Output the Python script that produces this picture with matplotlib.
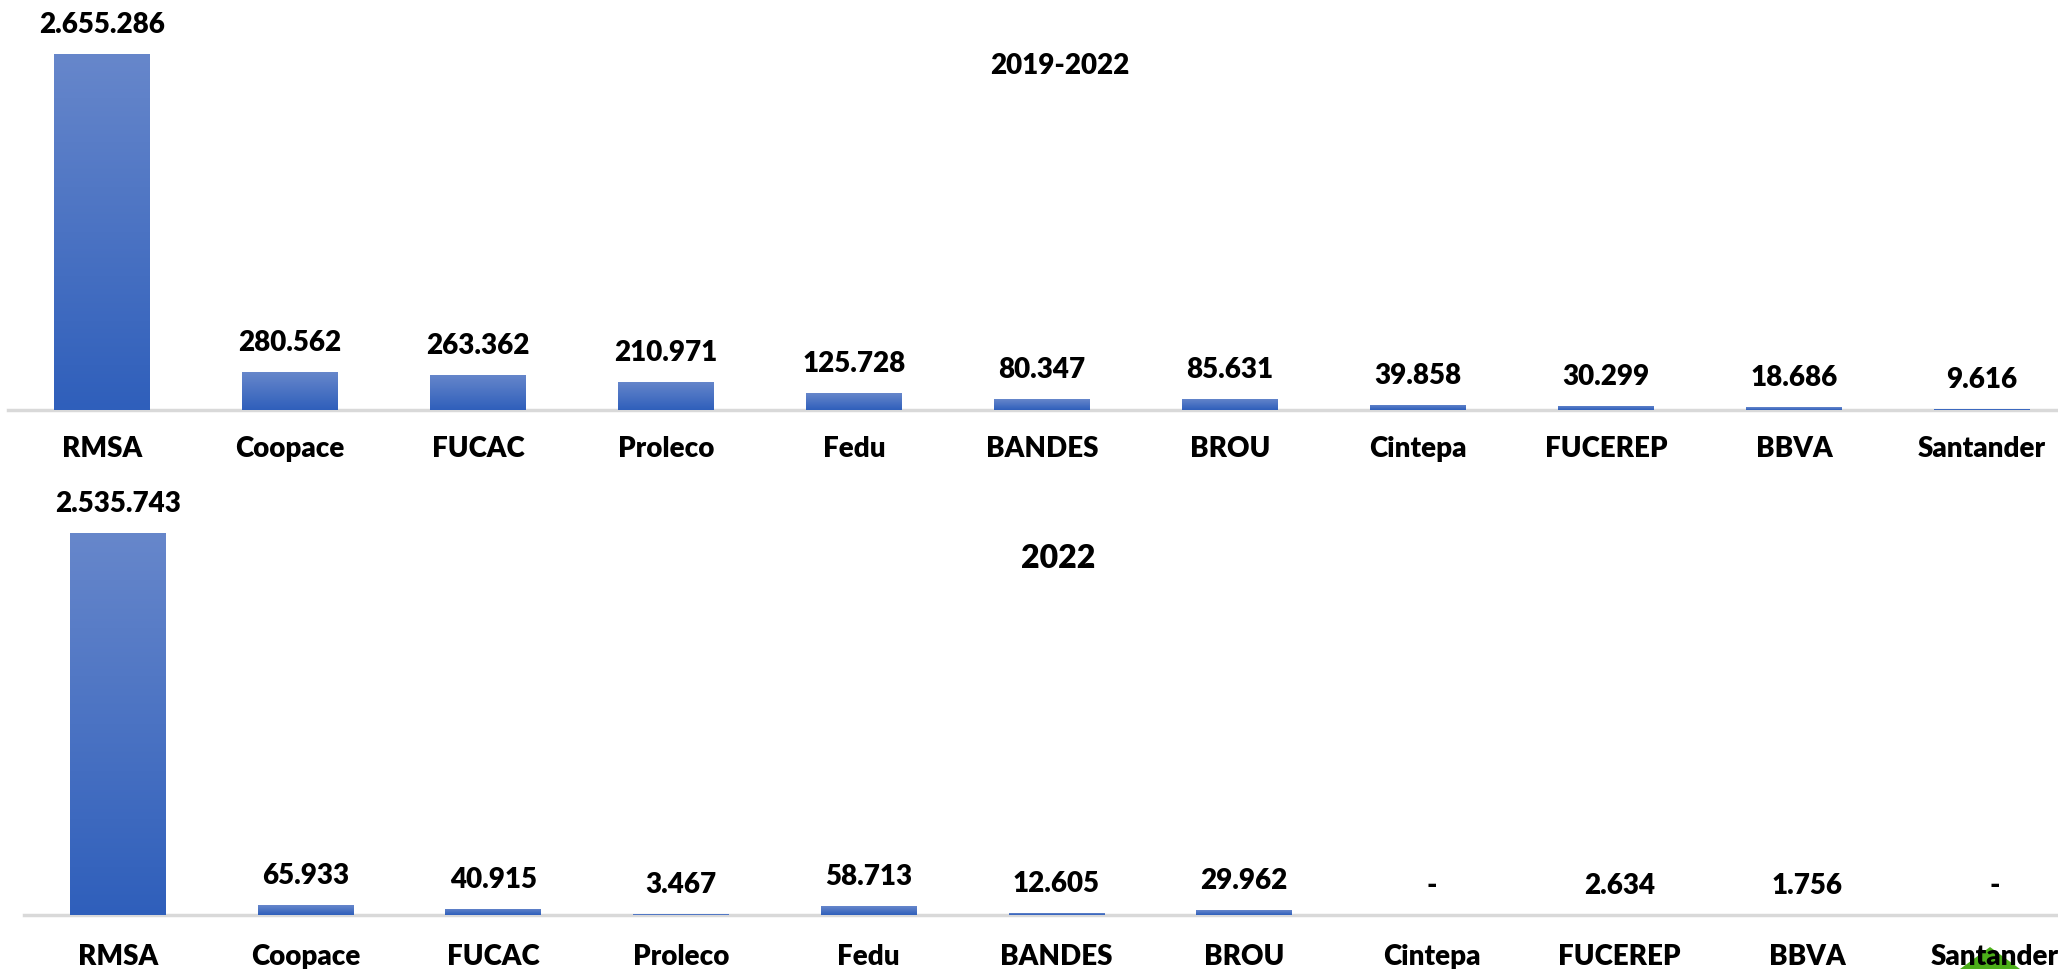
import numpy as np
import matplotlib
matplotlib.use('Agg')
import matplotlib.pyplot as plt
from matplotlib import font_manager
from matplotlib.colors import LinearSegmentedColormap
from matplotlib.patches import Polygon

# datos
categories = ['RMSA', 'Coopace', 'FUCAC', 'Proleco', 'Fedu', 'BANDES', 'BROU',
              'Cintepa', 'FUCEREP', 'BBVA', 'Santander']
values_2019_2022 = [2655286, 280562, 263362, 210971, 125728, 80347, 85631,
                    39858, 30299, 18686, 9616]
values_2022 = [2535743, 65933, 40915, 3467, 58713, 12605, 29962,
               0, 2634, 1756, 0]
titles = ['2019-2022', '2022']

# buscar una familia que tenga negrita real
candidatas = ['Lato', 'Roboto', 'Noto Sans', 'Open Sans', 'Liberation Sans', 'DejaVu Sans']
familia = 'DejaVu Sans'
for c in candidatas:
    pesos = [f.weight for f in font_manager.fontManager.ttflist if f.name == c]
    pesos = [w if isinstance(w, int) else font_manager.weight_dict.get(w, 400) for w in pesos]
    if any(w >= 600 for w in pesos):
        familia = c
        break
plt.rcParams['font.family'] = [familia, 'DejaVu Sans']
PESO = 'heavy'

W, H = 2058, 969
fig = plt.figure(figsize=(W / 100, H / 100), dpi=100)

grad_cmap = LinearSegmentedColormap.from_list('barra', ['#2f5fbb', '#6787cb'])


def fmt(v):
    if v == 0:
        return '-'
    return f'{v:,}'.replace(',', '.')


def px_axes(left, right, top, bottom):
    return fig.add_axes([left / W, 1 - bottom / H, (right - left) / W, (bottom - top) / H])


def draw_panel(ax, values, ymax, pad):
    x = np.arange(len(categories))
    bars = ax.bar(x, values, width=0.51, color='#4472c4', zorder=2)
    grad = np.linspace(0, 1, 256).reshape(-1, 1)
    for b in bars:
        if b.get_height() <= 0:
            continue
        im = ax.imshow(grad, cmap=grad_cmap, origin='lower', aspect='auto',
                       extent=(b.get_x(), b.get_x() + b.get_width(), 0, b.get_height()),
                       zorder=3)
        im.set_clip_path(b)
    for xi, v in zip(x, values):
        ax.annotate(fmt(v), (xi, v), xytext=(0, 29), textcoords='offset pixels',
                    ha='center', va='center', fontsize=20, fontweight=PESO)
    ax.set_xlim(-0.5, len(categories) - 0.5)
    ax.set_ylim(0, ymax)
    ax.set_xticks(x)
    ax.set_xticklabels(categories, fontsize=20, fontweight=PESO)
    ax.tick_params(axis='x', length=0, pad=pad)
    ax.set_yticks([])
    for s in ['top', 'left', 'right']:
        ax.spines[s].set_visible(False)
    ax.spines['bottom'].set_color('#d9d9d9')
    ax.spines['bottom'].set_linewidth(2.5)
    ax.set_facecolor('none')


ax1 = px_axes(8, 2076, 0, 410)
draw_panel(ax1, values_2019_2022, max(values_2019_2022) * 410 / 356, 18.5)

ax2 = px_axes(24, 2089, 480, 915)
draw_panel(ax2, values_2022, max(values_2022) * 435 / 382, 21)

fig.text(1060 / W, 1 - 66 / H, titles[0], ha='center', va='center',
         fontsize=20, fontweight=PESO)
fig.text(1058 / W, 1 - 558 / H, titles[1], ha='center', va='center',
         fontsize=23, fontweight=PESO)

# marca verde en la esquina inferior derecha
fig.patches.append(Polygon([(1990 / W, 1 - 947 / H), (1960 / W, 0), (2020 / W, 0)],
                           closed=True, transform=fig.transFigure,
                           facecolor='#4caf1a', edgecolor='none', zorder=-1))

fig.savefig('out.png', dpi=100, facecolor='white')
